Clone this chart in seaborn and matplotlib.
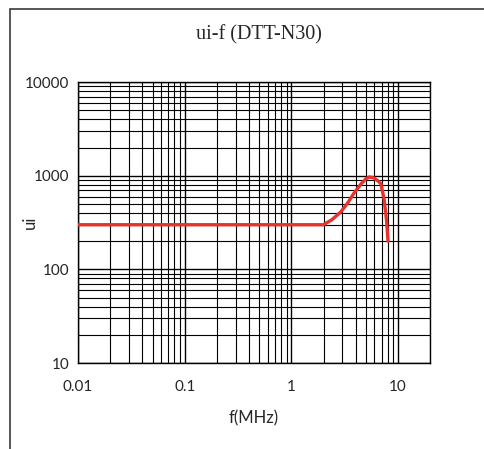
import matplotlib
matplotlib.use('Agg')
import matplotlib.pyplot as plt
import pandas as pd
import seaborn as sns
from matplotlib.patches import Rectangle

# values
freq_mhz = [0.01, 0.1, 1.0, 1.8, 2.0, 2.4, 2.9, 3.4, 3.85, 4.5, 5.0, 5.4, 5.9, 6.5, 6.9, 7.4, 7.8, 8.05]
ui = [300, 300, 300, 300, 300, 340, 410, 520, 650, 820, 930, 970, 950, 880, 820, 560, 330, 200]

x_ticks = [0.01, 0.1, 1, 10]
x_tick_labels = ['0.01', '0.1', '1', '10']
y_ticks = [10, 100, 1000, 10000]
y_tick_labels = ['10', '100', '1000', '10000']

df = pd.DataFrame({'f': freq_mhz, 'ui': ui})

sns.set_style('white')
plt.rcParams['font.family'] = ['Lato', 'DejaVu Sans']

fig = plt.figure(figsize=(4.85, 4.49), dpi=100)
ax = fig.add_axes([0.161, 0.1915, 0.726, 0.6255])

sns.lineplot(data=df, x='f', y='ui', ax=ax, color='#e8322b', linewidth=2.4, zorder=5)

ax.set_xscale('log')
ax.set_yscale('log')
ax.set_xlim(0.01, 20)
ax.set_ylim(10, 10000)

ax.set_xticks(x_ticks)
ax.set_xticklabels(x_tick_labels)
ax.set_yticks(y_ticks)
ax.set_yticklabels(y_tick_labels)

# dense log grid like the scanned original
ax.grid(True, which='major', color='black', linewidth=1.0)
ax.grid(True, which='minor', color='black', linewidth=0.8)
ax.tick_params(axis='both', which='major', labelsize=11, length=3, color='black', direction='out')
ax.tick_params(axis='x', which='major', pad=9)
ax.tick_params(axis='both', which='minor', length=0)
for s in ax.spines.values():
    s.set_color('black')
    s.set_linewidth(1.0)

ax.set_xlabel('f(MHz)', fontsize=12, labelpad=12)
ax.set_ylabel('ui', fontsize=12)
ax.yaxis.set_label_coords(-0.115, 0.5)
fig.text(0.534, 0.922, 'ui-f (DTT-N30)', ha='center', va='center',
         fontsize=14.5, family='Liberation Serif')

# outer chart border
fig.patches.append(Rectangle((0.021, -0.05), 1.2, 1.03, transform=fig.transFigure,
                             fill=False, edgecolor='#3a3a3a', linewidth=1.2))

fig.savefig('out.png', dpi=100)
